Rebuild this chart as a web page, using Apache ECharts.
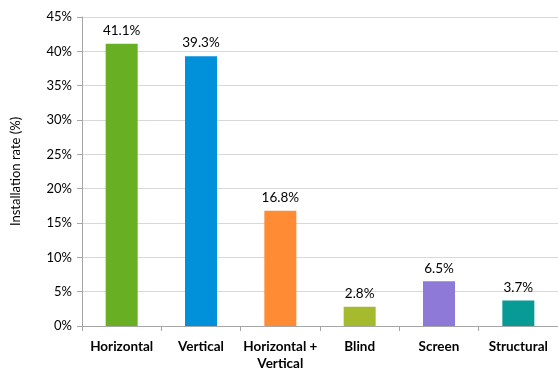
<!DOCTYPE html>
<html>
<head>
<meta charset="utf-8">
<script src="https://cdn.jsdelivr.net/npm/echarts@6/dist/echarts.min.js"></script>
<style>
  html, body { margin: 0; padding: 0; background: #fff; }
  #chart { width: 558px; height: 372px; }
</style>
</head>
<body>
<div id="chart"></div>
<script>
// Installation rate by type
const categories = ['Horizontal', 'Vertical', 'Horizontal +\nVertical', 'Blind', 'Screen', 'Structural'];
const rates = [41.1, 39.3, 16.8, 2.8, 6.5, 3.7];
const barColors = ['#69AF23', '#0091DA', '#FF8C35', '#A5BA2C', '#8E79D6', '#089B95'];
const yTicks = { min: 0, max: 45, interval: 5 };

const FONT = 'Lato, "Open Sans", sans-serif';

const chart = echarts.init(document.getElementById('chart'), null, { renderer: 'canvas' });
chart.setOption({
  animation: false,
  backgroundColor: '#ffffff',
  grid: { left: 82, top: 17, right: -1, bottom: 46, containLabel: false },
  xAxis: {
    type: 'category',
    data: categories,
    axisLine: { lineStyle: { color: '#A6A6A6', width: 1 } },
    axisTick: { show: true, length: 5, lineStyle: { color: '#A6A6A6' } },
    axisLabel: {
      color: '#000', fontFamily: FONT, fontWeight: 'bold', fontSize: 13.5,
      margin: 12, lineHeight: 17, interval: 0
    }
  },
  yAxis: {
    type: 'value',
    min: yTicks.min, max: yTicks.max, interval: yTicks.interval,
    name: 'Installation rate (%)',
    nameLocation: 'middle',
    nameGap: 60,
    nameTextStyle: { color: '#000', fontFamily: FONT, fontSize: 13 },
    axisLine: { show: true, lineStyle: { color: '#A6A6A6' } },
    axisTick: { show: true, length: 5, lineStyle: { color: '#A6A6A6' } },
    axisLabel: {
      color: '#000', fontFamily: FONT, fontSize: 13, margin: 10,
      formatter: v => v + '%'
    },
    splitLine: { lineStyle: { color: '#D9D9D9' } }
  },
  series: [{
    type: 'bar',
    data: rates.map((v, i) => ({ value: v, itemStyle: { color: barColors[i] } })),
    barWidth: 32,
    label: {
      show: true, position: 'top', distance: 6,
      color: '#000', fontFamily: FONT, fontSize: 13.5,
      formatter: p => p.value.toFixed(1) + '%'
    }
  }]
});
</script>
</body>
</html>
